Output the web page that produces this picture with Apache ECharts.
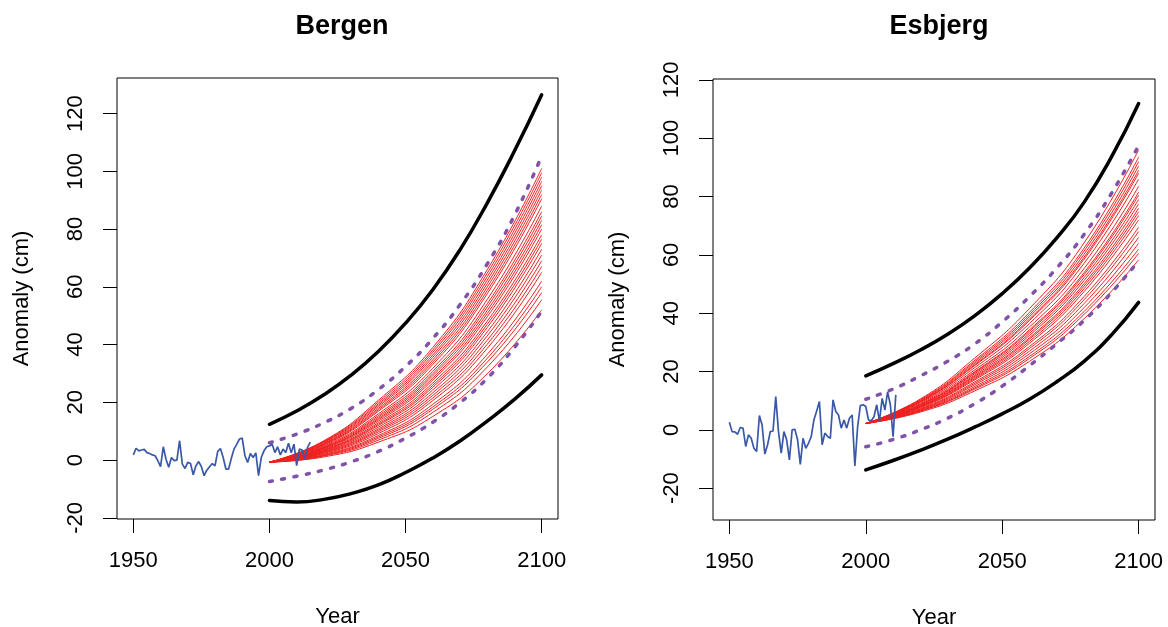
<!DOCTYPE html>
<html>
<head>
<meta charset="utf-8">
<script src="https://cdn.jsdelivr.net/npm/echarts@6/dist/echarts.min.js"></script>
<style>
html, body { margin: 0; padding: 0; background: #fff; }
#chart { width: 1168px; height: 627px; }
</style>
</head>
<body>
<div id="chart"></div>
<script>
// ---- data ----
var xTicks = [1950, 2000, 2050, 2100];
var yTicks = [-20, 0, 20, 40, 60, 80, 100, 120];

// observed annual anomalies
var bergenObsStart = 1950;
var bergenObs = [1.8, 4.1, 3.2, 3.5, 3.7, 2.6, 2.3, 1.8, 1.5, -0.2,
	-2.3, 4.6, 0.3, -2.5, 0.9, -0.2, 0.0, 6.7, -1.4, -2.9,
	-0.8, -1.2, -5.1, -2.0, -0.5, -2.3, -5.4, -3.5, -2.3, -1.2,
	-2.0, 3.0, 4.0, 0.9, -3.1, -3.1, 0.6, 3.8, 5.5, 7.3,
	7.6, 1.5, -0.8, 2.3, 0.9, 2.5, -5.4, 0.9, 3.2, 4.6,
	4.9, 5.5, 2.6, 4.6, 1.8, 3.8, 2.6, 5.8, 2.5, 5.5,
	-1.9, 3.8, 3.5, 0.3, 4.4, 6.2];
var esbjergObsStart = 1950;
var esbjergObs = [2.6, -0.6, -0.7, -1.5, 0.8, 0.6, -5.7, -1.7, -2.9, -6.3,
	-7.4, 4.9, 1.7, -8.3, -5.1, -0.6, -0.4, 11.4, -0.6, -8.0,
	-0.6, -3.4, -10.3, 0.0, 0.2, -3.4, -11.8, -2.9, -6.3, -4.6,
	-2.3, 3.5, 6.5, 9.7, -5.1, -1.1, -2.3, -2.9, 10.3, 6.3,
	5.1, 0.6, 3.4, 0.6, 4.0, 5.1, -12.4, 1.0, 8.3, 8.6,
	8.0, 3.4, 3.1, 4.5, 8.6, 3.0, 10.8, 6.8, 13.0, 8.6,
	-2.3, 12.0];

// envelope curves
var envYears = [2000, 2010, 2020, 2030, 2040, 2050, 2060, 2070, 2080, 2090, 2100];
var bergenHi = [12.4, 17, 22.6, 29.4, 37.6, 47.4, 59, 72.8, 89, 107, 126.5];
var bergenLo = [-14, -14.5, -13.6, -11.6, -8.6, -4.3, 0.7, 6.6, 13.5, 21, 29.5];
var bergenDotHi = [6, 9, 12.9, 17.9, 24.4, 32.4, 42.1, 53.8, 67.9, 84.7, 105.3];
var bergenDotLo = [-7.4, -5.6, -3.4, -0.6, 3, 7.6, 13.1, 19.9, 28.3, 39, 51.5];
var esbjergHi = [18.5, 22.7, 27.4, 32.8, 39.2, 46.7, 55.5, 65.8, 78, 93.5, 111.9];
var esbjergLo = [-13.7, -10.5, -7, -3.2, 1, 5.5, 10.5, 16.5, 23.5, 32.5, 43.7];
var esbjergDotHi = [10.5, 14, 18.5, 23.5, 29.5, 37, 45.7, 55.5, 67, 81, 97.5];
var esbjergDotLo = [-5.8, -3.3, 0, 4, 9, 15, 22, 29.5, 37.5, 47, 58];

// projection members
var projYears = [2000, 2020, 2040, 2060, 2080, 2100];
var bergenProj = [
	[-0.7, 6.7, 20.7, 39.0, 65.9, 101],
	[-0.7, 6.5, 20.1, 38.1, 64.7, 99.5],
	[-0.7, 6.3, 19.5, 37.3, 63.5, 98],
	[-0.7, 6.1, 19.0, 36.4, 62.3, 96.5],
	[-0.7, 5.8, 18.5, 35.6, 61.1, 95],
	[-0.7, 5.6, 17.9, 34.7, 59.9, 93.5],
	[-0.7, 5.4, 17.4, 33.9, 58.7, 92],
	[-0.7, 5.2, 16.9, 33.1, 57.6, 90.5],
	[-0.7, 4.9, 16.0, 31.8, 55.6, 88],
	[-0.7, 4.6, 15.4, 30.7, 54.1, 86],
	[-0.7, 4.4, 14.9, 29.9, 53.0, 84.5],
	[-0.7, 4.2, 14.4, 29.2, 51.8, 83],
	[-0.7, 4.1, 14.0, 28.4, 50.7, 81.5],
	[-0.7, 3.9, 13.5, 27.7, 49.6, 80],
	[-0.7, 3.6, 12.9, 26.7, 48.1, 78],
	[-0.7, 3.5, 12.4, 25.9, 47.0, 76.5],
	[-0.7, 3.3, 12.0, 25.2, 45.9, 75],
	[-0.7, 3.1, 11.4, 24.3, 44.4, 73],
	[-0.7, 2.9, 10.8, 23.3, 43.0, 71],
	[-0.7, 2.7, 10.3, 22.4, 41.5, 69],
	[-0.7, 2.5, 9.8, 21.5, 40.1, 67],
	[-0.7, 2.3, 9.2, 20.6, 38.7, 65],
	[-0.7, 2.0, 8.5, 19.3, 36.6, 62],
	[-0.7, 1.8, 8.0, 18.4, 35.2, 60],
	[-0.7, 1.6, 7.5, 17.6, 33.9, 58],
	[-0.7, 1.4, 6.9, 16.5, 32.2, 55.5],
	[-0.7, 1.1, 6.2, 15.1, 29.9, 52]
];
var esbjergProj = [
	[2.2, 10.6, 24.7, 41.6, 64.1, 96],
	[2.2, 10.3, 23.9, 40.3, 62.3, 93.5],
	[2.2, 10.1, 23.4, 39.5, 61.3, 92],
	[2.2, 9.9, 22.9, 38.8, 60.2, 90.5],
	[2.2, 9.7, 22.4, 38.0, 59.2, 89],
	[2.2, 9.6, 22.1, 37.5, 58.5, 88],
	[2.2, 9.3, 21.4, 36.5, 57.1, 86],
	[2.2, 9.0, 20.6, 35.3, 55.3, 83.5],
	[2.2, 8.7, 20.0, 34.3, 53.9, 81.5],
	[2.2, 8.6, 19.7, 33.8, 53.2, 80.5],
	[2.2, 8.4, 19.3, 33.1, 52.2, 79],
	[2.2, 8.2, 18.8, 32.4, 51.2, 77.5],
	[2.2, 8.1, 18.4, 31.6, 50.1, 76],
	[2.2, 7.9, 18.0, 31.1, 49.3, 74.8],
	[2.2, 7.8, 17.6, 30.4, 48.4, 73.5],
	[2.2, 7.6, 17.2, 29.7, 47.4, 72],
	[2.2, 7.3, 16.5, 28.6, 45.7, 69.5],
	[2.2, 7.1, 16.0, 27.9, 44.6, 68],
	[2.2, 6.9, 15.5, 27.0, 43.3, 66],
	[2.2, 6.7, 14.9, 26.1, 41.9, 64],
	[2.2, 6.5, 14.4, 25.2, 40.6, 62],
	[2.2, 6.4, 14.0, 24.5, 39.6, 60.5],
	[2.2, 6.1, 13.4, 23.5, 38.1, 58.3]
];

// ---- styles ----
var FONT = "'Liberation Sans', Arial, sans-serif";
var RED = '#f01e1e';
var BLUE = '#3a58a8';
var PURPLE = '#8052a8';

function pairs(xs, ys) {
	return ys.map(function (v, i) { return [xs[i], v]; });
}
function obsPairs(start, ys) {
	return ys.map(function (v, i) { return [start + i, v]; });
}
function lineSeries(gi, data, style, smooth) {
	return {
		type: 'line',
		xAxisIndex: gi,
		yAxisIndex: gi,
		data: data,
		symbol: 'none',
		smooth: smooth ? 0.5 : false,
		silent: true,
		lineStyle: style
	};
}

function xAxisFor(gi) {
	return {
		type: 'value', gridIndex: gi, min: 1944, max: 2106,
		name: 'Year', nameLocation: 'middle', nameGap: 87,
		nameTextStyle: { fontSize: 22, color: '#000', fontFamily: FONT },
		axisLine: { show: false, onZero: false },
		splitLine: { show: false },
		axisTick: { show: true, inside: false, length: 14, customValues: xTicks,
			lineStyle: { color: '#000', width: 1 } },
		axisLabel: { customValues: xTicks, margin: 31, fontSize: 22, color: '#000',
			fontFamily: FONT, formatter: function (v) { return String(v); } }
	};
}
function yAxisFor(gi, min, max) {
	return {
		type: 'value', gridIndex: gi, min: min, max: max,
		name: 'Anomaly (cm)', nameLocation: 'middle', nameGap: 84,
		nameTextStyle: { fontSize: 22, color: '#000', fontFamily: FONT },
		axisLine: { show: false, onZero: false },
		splitLine: { show: false },
		axisTick: { show: true, inside: false, length: 14, customValues: yTicks,
			lineStyle: { color: '#000', width: 1 } },
		axisLabel: { customValues: yTicks, margin: 30, rotate: 90, fontSize: 22, color: '#000',
			fontFamily: FONT, formatter: function (v) { return String(v); } }
	};
}

var series = [];
function addPanel(gi, proj, hi, lo, dotHi, dotLo, obsStart, obs) {
	proj.forEach(function (p) {
		series.push(lineSeries(gi, pairs(projYears, p), { color: RED, width: 1 }, true));
	});
	var dotted = { color: PURPLE, width: 3.5, type: [3, 9.5], cap: 'round' };
	series.push(lineSeries(gi, pairs(envYears, dotHi), dotted, true));
	series.push(lineSeries(gi, pairs(envYears, dotLo), dotted, true));
	var solid = { color: '#000', width: 3.5, cap: 'round' };
	series.push(lineSeries(gi, pairs(envYears, hi), solid, true));
	series.push(lineSeries(gi, pairs(envYears, lo), solid, true));
	series.push(lineSeries(gi, obsPairs(obsStart, obs), { color: BLUE, width: 1.7 }, false));
}
addPanel(0, bergenProj, bergenHi, bergenLo, bergenDotHi, bergenDotLo, bergenObsStart, bergenObs);
addPanel(1, esbjergProj, esbjergHi, esbjergLo, esbjergDotHi, esbjergDotLo, esbjergObsStart, esbjergObs);

var chart = echarts.init(document.getElementById('chart'), null, { renderer: 'canvas' });
chart.setOption({
	animation: false,
	backgroundColor: '#fff',
	title: [
		{ text: 'Bergen', left: 337, top: 8, textAlign: 'center',
			textStyle: { fontSize: 27, fontWeight: 'bold', color: '#000', fontFamily: FONT } },
		{ text: 'Esbjerg', left: 934, top: 8, textAlign: 'center',
			textStyle: { fontSize: 27, fontWeight: 'bold', color: '#000', fontFamily: FONT } }
	],
	grid: [
		{ left: 117, top: 78, width: 441, height: 441, show: true, borderColor: '#000', borderWidth: 1,
			backgroundColor: 'transparent', outerBoundsMode: 'none', containLabel: false },
		{ left: 713, top: 79, width: 442, height: 441, show: true, borderColor: '#000', borderWidth: 1,
			backgroundColor: 'transparent', outerBoundsMode: 'none', containLabel: false }
	],
	xAxis: [xAxisFor(0), xAxisFor(1)],
	yAxis: [yAxisFor(0, -20.4, 132.3), yAxisFor(1, -30.9, 120.3)],
	series: series
});
</script>
</body>
</html>
